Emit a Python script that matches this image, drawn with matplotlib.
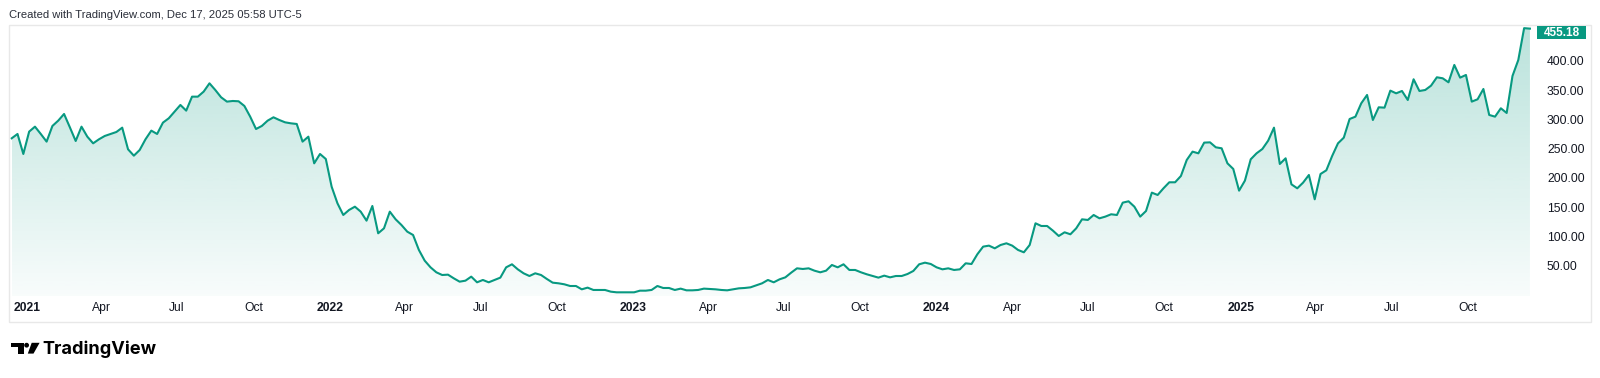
import numpy as np
import pandas as pd

import matplotlib
matplotlib.use("Agg")
import matplotlib.pyplot as plt
import matplotlib.dates as mdates
from matplotlib.colors import to_rgb
from matplotlib.patches import Rectangle, Circle, Polygon

# weekly closes, first bar on this Monday
first_week = "2020-12-14"
close = [
    267.7, 275.1, 240.9, 279.1, 287.6, 275.1, 262.0, 288.8, 297.9, 309.3,
    286.5, 263.1, 287.6, 270.5, 259.1, 266.0, 271.7, 275.1, 278.5, 285.9,
    248.9, 238.0, 247.7, 266.0, 280.8, 275.1, 294.5, 301.9, 313.3, 324.7,
    315.0, 338.9, 338.9, 347.5, 361.7, 350.3, 337.8, 330.4, 331.5, 331.0,
    323.0, 304.7, 283.6, 288.8, 297.9, 303.6, 299.0, 295.0, 293.3, 292.2,
    262.0, 270.5, 224.9, 240.9, 232.3, 185.0, 156.6, 136.6, 145.2, 150.8,
    142.3, 126.9, 152.0, 105.3, 113.8, 142.3, 129.2, 119.5, 108.1, 102.4,
    76.8,
    58.5, 47.1, 38.6, 34.0, 34.6, 28.3, 22.6, 24.3, 31.2, 21.5,
    25.5, 21.5, 25.5, 29.5, 47.1, 52.3, 43.7, 36.9, 32.3, 36.9,
    34.0, 27.2, 20.9, 19.8, 18.1, 15.2, 15.2, 9.5, 12.4, 8.4,
    8.4, 8.4, 5.5, 4.4, 4.4, 4.4, 4.4, 7.2, 7.2, 8.4,
    15.2, 11.8, 11.8, 8.4, 10.7, 7.8, 7.8, 8.4, 10.7, 10.1,
    9.5, 8.4, 7.8, 9.5, 11.2, 11.8, 12.9, 16.4, 19.8, 25.5,
    21.5, 26.6, 30.0, 38.0, 45.4, 44.3, 45.4, 41.4, 38.6,
    41.4, 51.1, 47.1, 52.3, 42.6, 42.6, 38.6, 35.2, 32.3, 29.5,
    32.9, 30.0, 32.3, 32.3, 35.7, 40.9, 52.3, 55.1, 52.8, 47.1,
    43.7, 45.4, 42.6, 43.7, 54.0, 52.8, 69.4, 82.5, 84.2, 79.6,
    85.3, 88.2, 84.2, 76.8, 72.8, 85.3, 122.4, 117.8, 117.8, 109.8,
    100.7, 107.0, 103.6, 113.8, 129.2, 128.1, 136.6, 130.9, 133.8, 137.8,
    136.6, 157.7, 160.0, 150.8, 133.8, 143.4, 174.8, 170.8, 182.2, 192.5,
    192.5, 203.3, 230.6, 244.9, 242.0, 260.3, 260.8, 252.3, 250.6,
    224.9, 215.3, 178.2, 195.3, 231.8, 242.0, 249.4, 263.7, 285.9, 223.8,
    233.5, 189.0, 182.2, 191.9, 205.0, 163.4, 206.7, 213.0, 237.5, 259.1,
    268.8, 300.7, 304.7, 327.5, 341.8, 299.0, 320.7, 320.1, 349.2, 344.6,
    348.6, 333.2, 368.6, 348.6, 350.3, 357.7, 372.0, 370.3, 363.4, 393.1,
    371.4, 376.0, 330.4, 334.4, 352.0, 307.6, 304.7, 319.0, 311.0, 374.3,
    401.6, 456.0, 455.18,
]

tick_dates = [
    "2021-01-01", "2021-04-01", "2021-07-01", "2021-10-01",
    "2022-01-01", "2022-04-01", "2022-07-01", "2022-10-01",
    "2023-01-01", "2023-04-01", "2023-07-01", "2023-10-01",
    "2024-01-01", "2024-04-01", "2024-07-01", "2024-10-01",
    "2025-01-01", "2025-04-01", "2025-07-01", "2025-10-01",
]
tick_labels = [
    "2021", "Apr", "Jul", "Oct", "2022", "Apr", "Jul", "Oct",
    "2023", "Apr", "Jul", "Oct", "2024", "Apr", "Jul", "Oct",
    "2025", "Apr", "Jul", "Oct",
]
price_ticks = [50, 100, 150, 200, 250, 300, 350, 400]
header = "Created with TradingView.com, Dec 17, 2025 05:58 UTC-5"

LINE = "#089981"
TEXT = "#131722"
W, H = 1600, 378


def px_box(left, top, right, bottom):
    return [left / W, 1 - bottom / H, (right - left) / W, (bottom - top) / H]


def main():
    plt.rcParams["font.family"] = ["Liberation Sans", "DejaVu Sans"]

    dates = pd.date_range(first_week, periods=len(close), freq="7D")
    x = mdates.date2num(dates)
    y = np.array(close, dtype=float)

    fig = plt.figure(figsize=(W / 100, H / 100), dpi=100)
    fig.patch.set_facecolor("white")

    ax = fig.add_axes(px_box(9, 25, 1531, 296))
    ax.set_facecolor("none")

    ax.plot(x, y, color=LINE, lw=1.5, solid_joinstyle="round", zorder=3)

    # gradient area under the line
    ybot = -1.9
    poly = ax.fill_between(x, y, ybot, facecolor="none", edgecolor="none")
    grad = np.zeros((256, 1, 4))
    grad[..., :3] = to_rgb(LINE)
    grad[..., 3] = np.linspace(0.03, 0.28, 256)[:, None]
    im = ax.imshow(grad, extent=[x[0], x[-1], ybot, y.max()], origin="lower",
                   aspect="auto", zorder=2, interpolation="bilinear")
    im.set_clip_path(poly.get_paths()[0], transform=ax.transData)

    # ~0.831 px per day, first bar sits at px 11.7
    ax.set_xlim(x[0] - 2.7 / 0.831, x[0] + (1531 - 11.7) / 0.831)
    ax.set_ylim(ybot, 461.4)

    ax.set_xticks(mdates.date2num(pd.to_datetime(tick_dates)))
    ax.set_xticklabels(tick_labels)
    for lab, txt in zip(ax.get_xticklabels(), tick_labels):
        if txt.isdigit():
            lab.set_fontweight("bold")
    ax.tick_params(axis="x", length=0, pad=4.5, labelsize=8.7, labelcolor=TEXT)

    ax.yaxis.tick_right()
    ax.set_yticks(price_ticks)
    ax.set_yticklabels([f"{v:.2f}" for v in price_ticks])
    ax.tick_params(axis="y", length=0, pad=11.5, labelsize=8.7, labelcolor=TEXT)
    for s in ax.spines.values():
        s.set_visible(False)

    # overlay in pixel coords for frame, header, price tag and logo
    deco = fig.add_axes([0, 0, 1, 1], zorder=5)
    deco.set_xlim(0, W)
    deco.set_ylim(H, 0)
    deco.axis("off")
    deco.patch.set_visible(False)

    deco.add_patch(Rectangle((8.5, 25), 1582, 296.5, fill=False, ec="#e8e8e8", lw=1))
    deco.text(9, 14.5, header, fontsize=8.1, color="#2a2e39", ha="left", va="center")

    deco.add_patch(Rectangle((1537, 26), 49, 13, fc=LINE, ec="none"))
    deco.text(1561.5, 32.8, f"{close[-1]:.2f}", color="white", fontsize=8.5,
              fontweight="bold", ha="center", va="center")

    deco.add_patch(Rectangle((11.0, 342.8), 12.6, 4.2, fc="black", ec="none"))
    deco.add_patch(Rectangle((17.6, 342.8), 6.0, 10.8, fc="black", ec="none"))
    deco.add_patch(Circle((26.6, 345.2), 2.4, fc="black", ec="none"))
    deco.add_patch(Polygon([(31.7, 342.8), (39.6, 342.8), (33.5, 353.6), (27.8, 353.6)],
                           closed=True, fc="black", ec="none"))
    deco.text(42.7, 353.5, "TradingView", fontsize=13.1, fontweight="bold",
              family=["Inter", "DejaVu Sans"], color="black", ha="left", va="baseline")

    fig.savefig("out.png", dpi=100, facecolor="white")
    plt.close(fig)


if __name__ == "__main__":
    main()
